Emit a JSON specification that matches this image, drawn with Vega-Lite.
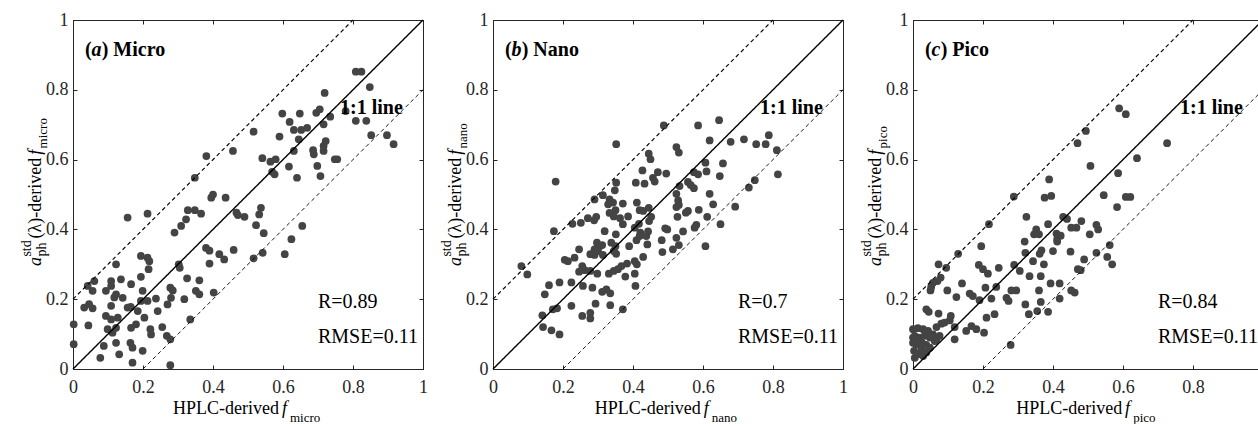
{
"$schema": "https://vega.github.io/schema/vega-lite/v6.json",
"background": "white",
"padding": {"left": 19, "top": 10, "right": 0, "bottom": 0},
"spacing": 70,
"bounds": "flush",
"config": {
  "view": {"stroke": "#262626", "strokeWidth": 1},
  "font": "Liberation Serif",
  "text": {"font": "Liberation Serif", "align": "left", "baseline": "alphabetic", "color": "#000000"},
  "axis": {"labelFont": "Liberation Serif", "labelFontSize": 18, "labelColor": "#262626", "domainColor": "#262626", "tickColor": "#262626", "tickSize": -4, "tickWidth": 1, "domainWidth": 1, "grid": false, "title": null, "format": "~g", "labelFlush": false, "labelOverlap": false},
  "axisX": {"labelPadding": 13},
  "axisY": {"labelPadding": 9}
},
"datasets": {
  "lines": [{"g":"one","x":0,"y":0},{"g":"one","x":1,"y":1},{"g":"up","x":0,"y":0.2},{"g":"up","x":0.8,"y":1},{"g":"lo","x":0.2,"y":0},{"g":"lo","x":1,"y":0.8}],
  "micro": [{"x":0.808,"y":0.852},{"x":0.824,"y":0.852},{"x":0.848,"y":0.808},{"x":0.719,"y":0.791},{"x":0.598,"y":0.732},{"x":0.648,"y":0.732},{"x":0.695,"y":0.734},{"x":0.705,"y":0.744},{"x":0.619,"y":0.708},{"x":0.631,"y":0.685},{"x":0.652,"y":0.685},{"x":0.669,"y":0.691},{"x":0.716,"y":0.701},{"x":0.735,"y":0.723},{"x":0.779,"y":0.739},{"x":0.808,"y":0.711},{"x":0.838,"y":0.711},{"x":0.852,"y":0.67},{"x":0.897,"y":0.67},{"x":0.916,"y":0.644},{"x":0.516,"y":0.68},{"x":0.59,"y":0.666},{"x":0.645,"y":0.658},{"x":0.457,"y":0.625},{"x":0.381,"y":0.61},{"x":0.541,"y":0.604},{"x":0.564,"y":0.594},{"x":0.579,"y":0.601},{"x":0.631,"y":0.625},{"x":0.686,"y":0.627},{"x":0.688,"y":0.615},{"x":0.716,"y":0.639},{"x":0.722,"y":0.653},{"x":0.716,"y":0.625},{"x":0.748,"y":0.601},{"x":0.755,"y":0.601},{"x":0.617,"y":0.58},{"x":0.698,"y":0.582},{"x":0.569,"y":0.565},{"x":0.576,"y":0.558},{"x":0.64,"y":0.548},{"x":0.707,"y":0.553},{"x":0.348,"y":0.548},{"x":0.4,"y":0.5},{"x":0.395,"y":0.491},{"x":0.436,"y":0.491},{"x":0.328,"y":0.455},{"x":0.348,"y":0.455},{"x":0.366,"y":0.445},{"x":0.467,"y":0.448},{"x":0.471,"y":0.441},{"x":0.49,"y":0.436},{"x":0.537,"y":0.462},{"x":0.532,"y":0.443},{"x":0.323,"y":0.429},{"x":0.156,"y":0.434},{"x":0.213,"y":0.445},{"x":0.545,"y":0.389},{"x":0.523,"y":0.412},{"x":0.309,"y":0.41},{"x":0.29,"y":0.391},{"x":0.38,"y":0.347},{"x":0.39,"y":0.339},{"x":0.418,"y":0.329},{"x":0.432,"y":0.314},{"x":0.459,"y":0.341},{"x":0.516,"y":0.317},{"x":0.542,"y":0.333},{"x":0.39,"y":0.302},{"x":0.194,"y":0.324},{"x":0.213,"y":0.319},{"x":0.218,"y":0.309},{"x":0.216,"y":0.286},{"x":0.302,"y":0.3},{"x":0.305,"y":0.29},{"x":0.123,"y":0.3},{"x":0.194,"y":0.264},{"x":0.326,"y":0.26},{"x":0.361,"y":0.254},{"x":0.109,"y":0.252},{"x":0.137,"y":0.257},{"x":0.042,"y":0.238},{"x":0.061,"y":0.252},{"x":0.056,"y":0.224},{"x":0.094,"y":0.224},{"x":0.109,"y":0.238},{"x":0.123,"y":0.214},{"x":0.142,"y":0.204},{"x":0.118,"y":0.205},{"x":0.166,"y":0.243},{"x":0.199,"y":0.224},{"x":0.278,"y":0.233},{"x":0.285,"y":0.225},{"x":0.28,"y":0.204},{"x":0.351,"y":0.224},{"x":0.361,"y":0.214},{"x":0.318,"y":0.2},{"x":0.402,"y":0.219},{"x":0.237,"y":0.202},{"x":0.213,"y":0.195},{"x":0.194,"y":0.195},{"x":0.032,"y":0.176},{"x":0.056,"y":0.174},{"x":0.046,"y":0.186},{"x":0.109,"y":0.181},{"x":0.156,"y":0.176},{"x":0.165,"y":0.178},{"x":0.185,"y":0.166},{"x":0.242,"y":0.166},{"x":0.27,"y":0.185},{"x":0.094,"y":0.152},{"x":0.109,"y":0.142},{"x":0.128,"y":0.147},{"x":0.204,"y":0.147},{"x":0.002,"y":0.128},{"x":0.044,"y":0.125},{"x":0.099,"y":0.114},{"x":0.123,"y":0.118},{"x":0.166,"y":0.118},{"x":0.18,"y":0.128},{"x":0.113,"y":0.104},{"x":0.221,"y":0.114},{"x":0.223,"y":0.099},{"x":0.255,"y":0.12},{"x":0.268,"y":0.095},{"x":0.278,"y":0.085},{"x":0.002,"y":0.071},{"x":0.088,"y":0.066},{"x":0.123,"y":0.075},{"x":0.164,"y":0.075},{"x":0.17,"y":0.061},{"x":0.132,"y":0.042},{"x":0.199,"y":0.052},{"x":0.078,"y":0.032},{"x":0.17,"y":0.018},{"x":0.278,"y":0.011},{"x":0.335,"y":0.142},{"x":0.605,"y":0.329},{"x":0.624,"y":0.372},{"x":0.655,"y":0.41}],
  "nano": [{"x":0.352,"y":0.644},{"x":0.488,"y":0.698},{"x":0.586,"y":0.698},{"x":0.646,"y":0.713},{"x":0.619,"y":0.655},{"x":0.679,"y":0.651},{"x":0.717,"y":0.658},{"x":0.752,"y":0.644},{"x":0.779,"y":0.644},{"x":0.788,"y":0.67},{"x":0.811,"y":0.627},{"x":0.814,"y":0.558},{"x":0.445,"y":0.617},{"x":0.45,"y":0.601},{"x":0.524,"y":0.636},{"x":0.531,"y":0.62},{"x":0.179,"y":0.537},{"x":0.427,"y":0.569},{"x":0.471,"y":0.564},{"x":0.495,"y":0.56},{"x":0.457,"y":0.548},{"x":0.462,"y":0.537},{"x":0.408,"y":0.534},{"x":0.433,"y":0.531},{"x":0.352,"y":0.534},{"x":0.348,"y":0.512},{"x":0.607,"y":0.591},{"x":0.657,"y":0.589},{"x":0.574,"y":0.564},{"x":0.586,"y":0.558},{"x":0.61,"y":0.566},{"x":0.648,"y":0.553},{"x":0.557,"y":0.536},{"x":0.565,"y":0.527},{"x":0.574,"y":0.518},{"x":0.533,"y":0.524},{"x":0.619,"y":0.502},{"x":0.748,"y":0.541},{"x":0.731,"y":0.52},{"x":0.692,"y":0.465},{"x":0.629,"y":0.472},{"x":0.588,"y":0.456},{"x":0.612,"y":0.436},{"x":0.65,"y":0.415},{"x":0.576,"y":0.405},{"x":0.581,"y":0.413},{"x":0.557,"y":0.453},{"x":0.524,"y":0.502},{"x":0.529,"y":0.483},{"x":0.524,"y":0.464},{"x":0.531,"y":0.47},{"x":0.551,"y":0.448},{"x":0.527,"y":0.436},{"x":0.492,"y":0.403},{"x":0.498,"y":0.4},{"x":0.543,"y":0.394},{"x":0.524,"y":0.376},{"x":0.29,"y":0.486},{"x":0.314,"y":0.498},{"x":0.333,"y":0.486},{"x":0.343,"y":0.477},{"x":0.329,"y":0.472},{"x":0.371,"y":0.474},{"x":0.35,"y":0.455},{"x":0.333,"y":0.447},{"x":0.345,"y":0.437},{"x":0.363,"y":0.432},{"x":0.386,"y":0.437},{"x":0.411,"y":0.477},{"x":0.419,"y":0.455},{"x":0.429,"y":0.453},{"x":0.445,"y":0.462},{"x":0.452,"y":0.436},{"x":0.446,"y":0.424},{"x":0.417,"y":0.416},{"x":0.405,"y":0.405},{"x":0.443,"y":0.394},{"x":0.421,"y":0.391},{"x":0.371,"y":0.415},{"x":0.319,"y":0.395},{"x":0.271,"y":0.432},{"x":0.289,"y":0.426},{"x":0.295,"y":0.436},{"x":0.251,"y":0.419},{"x":0.227,"y":0.416},{"x":0.174,"y":0.395},{"x":0.351,"y":0.386},{"x":0.419,"y":0.381},{"x":0.438,"y":0.381},{"x":0.441,"y":0.357},{"x":0.482,"y":0.369},{"x":0.484,"y":0.335},{"x":0.514,"y":0.343},{"x":0.531,"y":0.355},{"x":0.607,"y":0.352},{"x":0.389,"y":0.352},{"x":0.41,"y":0.369},{"x":0.297,"y":0.362},{"x":0.305,"y":0.352},{"x":0.312,"y":0.355},{"x":0.29,"y":0.343},{"x":0.3,"y":0.338},{"x":0.338,"y":0.362},{"x":0.35,"y":0.352},{"x":0.345,"y":0.338},{"x":0.246,"y":0.343},{"x":0.29,"y":0.327},{"x":0.278,"y":0.329},{"x":0.314,"y":0.327},{"x":0.352,"y":0.33},{"x":0.233,"y":0.319},{"x":0.205,"y":0.313},{"x":0.214,"y":0.309},{"x":0.255,"y":0.295},{"x":0.262,"y":0.283},{"x":0.278,"y":0.281},{"x":0.298,"y":0.273},{"x":0.246,"y":0.279},{"x":0.331,"y":0.273},{"x":0.345,"y":0.281},{"x":0.357,"y":0.286},{"x":0.367,"y":0.295},{"x":0.383,"y":0.302},{"x":0.405,"y":0.309},{"x":0.411,"y":0.3},{"x":0.429,"y":0.321},{"x":0.378,"y":0.265},{"x":0.405,"y":0.273},{"x":0.407,"y":0.238},{"x":0.081,"y":0.295},{"x":0.098,"y":0.271},{"x":0.16,"y":0.24},{"x":0.148,"y":0.214},{"x":0.19,"y":0.248},{"x":0.224,"y":0.248},{"x":0.257,"y":0.238},{"x":0.284,"y":0.233},{"x":0.312,"y":0.221},{"x":0.324,"y":0.228},{"x":0.335,"y":0.217},{"x":0.293,"y":0.187},{"x":0.335,"y":0.183},{"x":0.371,"y":0.171},{"x":0.224,"y":0.181},{"x":0.171,"y":0.171},{"x":0.183,"y":0.174},{"x":0.141,"y":0.154},{"x":0.255,"y":0.152},{"x":0.278,"y":0.161},{"x":0.278,"y":0.145},{"x":0.143,"y":0.12},{"x":0.167,"y":0.111},{"x":0.19,"y":0.099}],
  "pico": [{"x":0.589,"y":0.747},{"x":0.608,"y":0.73},{"x":0.494,"y":0.682},{"x":0.47,"y":0.647},{"x":0.726,"y":0.647},{"x":0.64,"y":0.604},{"x":0.507,"y":0.582},{"x":0.586,"y":0.561},{"x":0.389,"y":0.543},{"x":0.288,"y":0.494},{"x":0.376,"y":0.491},{"x":0.395,"y":0.496},{"x":0.545,"y":0.498},{"x":0.608,"y":0.493},{"x":0.621,"y":0.493},{"x":0.583,"y":0.464},{"x":0.324,"y":0.436},{"x":0.386,"y":0.415},{"x":0.429,"y":0.436},{"x":0.44,"y":0.43},{"x":0.452,"y":0.405},{"x":0.467,"y":0.405},{"x":0.481,"y":0.424},{"x":0.524,"y":0.413},{"x":0.529,"y":0.4},{"x":0.217,"y":0.415},{"x":0.505,"y":0.386},{"x":0.41,"y":0.388},{"x":0.346,"y":0.386},{"x":0.36,"y":0.386},{"x":0.352,"y":0.4},{"x":0.562,"y":0.355},{"x":0.569,"y":0.3},{"x":0.555,"y":0.321},{"x":0.319,"y":0.365},{"x":0.412,"y":0.372},{"x":0.412,"y":0.365},{"x":0.422,"y":0.382},{"x":0.4,"y":0.338},{"x":0.45,"y":0.336},{"x":0.367,"y":0.34},{"x":0.362,"y":0.33},{"x":0.343,"y":0.309},{"x":0.374,"y":0.3},{"x":0.321,"y":0.333},{"x":0.195,"y":0.352},{"x":0.129,"y":0.33},{"x":0.073,"y":0.3},{"x":0.095,"y":0.29},{"x":0.079,"y":0.262},{"x":0.07,"y":0.252},{"x":0.057,"y":0.247},{"x":0.052,"y":0.235},{"x":0.05,"y":0.225},{"x":0.188,"y":0.298},{"x":0.2,"y":0.286},{"x":0.214,"y":0.273},{"x":0.245,"y":0.29},{"x":0.289,"y":0.298},{"x":0.305,"y":0.281},{"x":0.333,"y":0.266},{"x":0.365,"y":0.266},{"x":0.489,"y":0.314},{"x":0.471,"y":0.286},{"x":0.479,"y":0.283},{"x":0.524,"y":0.333},{"x":0.14,"y":0.245},{"x":0.098,"y":0.225},{"x":0.124,"y":0.206},{"x":0.162,"y":0.216},{"x":0.171,"y":0.209},{"x":0.19,"y":0.197},{"x":0.207,"y":0.233},{"x":0.224,"y":0.202},{"x":0.238,"y":0.235},{"x":0.267,"y":0.204},{"x":0.273,"y":0.195},{"x":0.281,"y":0.225},{"x":0.295,"y":0.225},{"x":0.393,"y":0.245},{"x":0.419,"y":0.245},{"x":0.419,"y":0.202},{"x":0.452,"y":0.225},{"x":0.462,"y":0.219},{"x":0.36,"y":0.225},{"x":0.321,"y":0.185},{"x":0.365,"y":0.192},{"x":0.355,"y":0.166},{"x":0.386,"y":0.164},{"x":0.331,"y":0.157},{"x":0.21,"y":0.147},{"x":0.233,"y":0.157},{"x":0.038,"y":0.171},{"x":0.045,"y":0.164},{"x":0.073,"y":0.159},{"x":0.081,"y":0.13},{"x":0.09,"y":0.133},{"x":0.105,"y":0.139},{"x":0.108,"y":0.152},{"x":0.119,"y":0.12},{"x":0.152,"y":0.109},{"x":0.167,"y":0.123},{"x":0.181,"y":0.114},{"x":0.203,"y":0.104},{"x":0.119,"y":0.085},{"x":0.067,"y":0.085},{"x":0.279,"y":0.069},{"x":0.0,"y":0.114},{"x":0.014,"y":0.117},{"x":0.029,"y":0.114},{"x":0.043,"y":0.109},{"x":0.005,"y":0.095},{"x":0.019,"y":0.09},{"x":0.033,"y":0.095},{"x":0.048,"y":0.09},{"x":0.0,"y":0.075},{"x":0.012,"y":0.071},{"x":0.026,"y":0.075},{"x":0.038,"y":0.069},{"x":0.003,"y":0.052},{"x":0.014,"y":0.042},{"x":0.029,"y":0.037},{"x":0.005,"y":0.032},{"x":0.057,"y":0.099},{"x":0.067,"y":0.12},{"x":0.024,"y":0.057},{"x":0.048,"y":0.061},{"x":0.038,"y":0.047},{"x":0.062,"y":0.08},{"x":0.076,"y":0.095},{"x":0.0,"y":0.09},{"x":0.01,"y":0.08}]
},
"hconcat": [
 {"width": 350, "height": 349, "resolve": {"axis": {"x": "independent", "y": "independent"}},
  "layer": [
   {"data": {"name": "micro"}, "mark": {"type": "circle", "size": 60, "color": "#444444", "opacity": 1},
    "encoding": {"x": {"field": "x", "type": "quantitative", "scale": {"domain": [0, 1], "nice": false}, "axis": {"orient": "bottom", "values": [0, 0.2, 0.4, 0.6, 0.8, 1]}},
                 "y": {"field": "y", "type": "quantitative", "scale": {"domain": [0, 1], "nice": false}, "axis": {"orient": "left", "values": [0, 0.2, 0.4, 0.6, 0.8, 1]}}}},
   {"data": {"name": "lines"}, "mark": {"type": "line", "color": "#000000"},
    "encoding": {"x": {"field": "x", "type": "quantitative", "axis": {"orient": "top", "labels": false, "values": [0, 0.2, 0.4, 0.6, 0.8, 1]}},
                 "y": {"field": "y", "type": "quantitative", "axis": {"orient": "right", "labels": false, "values": [0, 0.2, 0.4, 0.6, 0.8, 1]}},
                 "detail": {"field": "g"},
                 "strokeDash": {"field": "g", "type": "nominal", "scale": {"domain": ["one", "up", "lo"], "range": [[1, 0], [4, 3], [4, 3]]}, "legend": null},
                 "strokeWidth": {"field": "g", "type": "nominal", "scale": {"domain": ["one", "up", "lo"], "range": [1.4, 0.9, 0.9]}, "legend": null}}},
   {"layer": [
    {"data": {"values": [{}]}, "mark": {"type": "text", "text": "(", "fontSize": 20, "fontWeight": "bold"}, "encoding": {"x": {"datum": 0.034, "type": "quantitative", "axis": null}, "y": {"datum": 0.897, "type": "quantitative", "axis": null}}},
    {"data": {"values": [{}]}, "mark": {"type": "text", "text": "a", "fontSize": 20, "fontWeight": "bold", "fontStyle": "italic"}, "encoding": {"x": {"datum": 0.053, "type": "quantitative", "axis": null}, "y": {"datum": 0.897, "type": "quantitative", "axis": null}}},
    {"data": {"values": [{}]}, "mark": {"type": "text", "text": ") Micro", "fontSize": 20, "fontWeight": "bold"}, "encoding": {"x": {"datum": 0.082, "type": "quantitative", "axis": null}, "y": {"datum": 0.897, "type": "quantitative", "axis": null}}},
    {"data": {"values": [{}]}, "mark": {"type": "text", "text": "1:1 line", "fontSize": 20, "fontWeight": "bold"}, "encoding": {"x": {"datum": 0.763, "type": "quantitative", "axis": null}, "y": {"datum": 0.731, "type": "quantitative", "axis": null}}},
    {"data": {"values": [{}]}, "mark": {"type": "text", "text": "R=0.89", "fontSize": 20}, "encoding": {"x": {"datum": 0.7, "type": "quantitative", "axis": null}, "y": {"datum": 0.176, "type": "quantitative", "axis": null}}},
    {"data": {"values": [{}]}, "mark": {"type": "text", "text": "RMSE=0.11", "fontSize": 20}, "encoding": {"x": {"datum": 0.7, "type": "quantitative", "axis": null}, "y": {"datum": 0.075, "type": "quantitative", "axis": null}}},
    {"data": {"values": [{}]}, "mark": {"type": "text", "text": "HPLC-derived", "fontSize": 18}, "encoding": {"x": {"datum": 0.286, "type": "quantitative", "axis": null}, "y": {"datum": -0.129, "type": "quantitative", "axis": null}}},
    {"data": {"values": [{}]}, "mark": {"type": "text", "text": "f", "fontSize": 18, "fontStyle": "italic"}, "encoding": {"x": {"datum": 0.597, "type": "quantitative", "axis": null}, "y": {"datum": -0.129, "type": "quantitative", "axis": null}}},
    {"data": {"values": [{}]}, "mark": {"type": "text", "text": "micro", "fontSize": 13}, "encoding": {"x": {"datum": 0.62, "type": "quantitative", "axis": null}, "y": {"datum": -0.152, "type": "quantitative", "axis": null}}},
    {"data": {"values": [{}]}, "mark": {"type": "text", "text": "a", "fontSize": 18, "fontStyle": "italic", "angle": 270}, "encoding": {"x": {"datum": -0.091, "type": "quantitative", "axis": null}, "y": {"datum": 0.295, "type": "quantitative", "axis": null}}},
    {"data": {"values": [{}]}, "mark": {"type": "text", "text": "std", "fontSize": 14, "angle": 270}, "encoding": {"x": {"datum": -0.12, "type": "quantitative", "axis": null}, "y": {"datum": 0.322, "type": "quantitative", "axis": null}}},
    {"data": {"values": [{}]}, "mark": {"type": "text", "text": "ph", "fontSize": 14, "angle": 270}, "encoding": {"x": {"datum": -0.078, "type": "quantitative", "axis": null}, "y": {"datum": 0.322, "type": "quantitative", "axis": null}}},
    {"data": {"values": [{}]}, "mark": {"type": "text", "text": "(λ)-derived", "fontSize": 18, "angle": 270}, "encoding": {"x": {"datum": -0.091, "type": "quantitative", "axis": null}, "y": {"datum": 0.374, "type": "quantitative", "axis": null}}},
    {"data": {"values": [{}]}, "mark": {"type": "text", "text": "f", "fontSize": 18, "fontStyle": "italic", "angle": 270}, "encoding": {"x": {"datum": -0.091, "type": "quantitative", "axis": null}, "y": {"datum": 0.614, "type": "quantitative", "axis": null}}},
    {"data": {"values": [{}]}, "mark": {"type": "text", "text": "micro", "fontSize": 13, "angle": 270}, "encoding": {"x": {"datum": -0.074, "type": "quantitative", "axis": null}, "y": {"datum": 0.632, "type": "quantitative", "axis": null}}}
   ]}
  ]},
 {"width": 350, "height": 349, "resolve": {"axis": {"x": "independent", "y": "independent"}},
  "layer": [
   {"data": {"name": "nano"}, "mark": {"type": "circle", "size": 60, "color": "#444444", "opacity": 1},
    "encoding": {"x": {"field": "x", "type": "quantitative", "scale": {"domain": [0, 1], "nice": false}, "axis": {"orient": "bottom", "values": [0, 0.2, 0.4, 0.6, 0.8, 1]}},
                 "y": {"field": "y", "type": "quantitative", "scale": {"domain": [0, 1], "nice": false}, "axis": {"orient": "left", "values": [0, 0.2, 0.4, 0.6, 0.8, 1]}}}},
   {"data": {"name": "lines"}, "mark": {"type": "line", "color": "#000000"},
    "encoding": {"x": {"field": "x", "type": "quantitative", "axis": {"orient": "top", "labels": false, "values": [0, 0.2, 0.4, 0.6, 0.8, 1]}},
                 "y": {"field": "y", "type": "quantitative", "axis": {"orient": "right", "labels": false, "values": [0, 0.2, 0.4, 0.6, 0.8, 1]}},
                 "detail": {"field": "g"},
                 "strokeDash": {"field": "g", "type": "nominal", "scale": {"domain": ["one", "up", "lo"], "range": [[1, 0], [4, 3], [4, 3]]}, "legend": null},
                 "strokeWidth": {"field": "g", "type": "nominal", "scale": {"domain": ["one", "up", "lo"], "range": [1.4, 0.9, 0.9]}, "legend": null}}},
   {"layer": [
    {"data": {"values": [{}]}, "mark": {"type": "text", "text": "(", "fontSize": 20, "fontWeight": "bold"}, "encoding": {"x": {"datum": 0.034, "type": "quantitative", "axis": null}, "y": {"datum": 0.897, "type": "quantitative", "axis": null}}},
    {"data": {"values": [{}]}, "mark": {"type": "text", "text": "b", "fontSize": 20, "fontWeight": "bold", "fontStyle": "italic"}, "encoding": {"x": {"datum": 0.053, "type": "quantitative", "axis": null}, "y": {"datum": 0.897, "type": "quantitative", "axis": null}}},
    {"data": {"values": [{}]}, "mark": {"type": "text", "text": ") Nano", "fontSize": 20, "fontWeight": "bold"}, "encoding": {"x": {"datum": 0.082, "type": "quantitative", "axis": null}, "y": {"datum": 0.897, "type": "quantitative", "axis": null}}},
    {"data": {"values": [{}]}, "mark": {"type": "text", "text": "1:1 line", "fontSize": 20, "fontWeight": "bold"}, "encoding": {"x": {"datum": 0.763, "type": "quantitative", "axis": null}, "y": {"datum": 0.731, "type": "quantitative", "axis": null}}},
    {"data": {"values": [{}]}, "mark": {"type": "text", "text": "R=0.7", "fontSize": 20}, "encoding": {"x": {"datum": 0.7, "type": "quantitative", "axis": null}, "y": {"datum": 0.176, "type": "quantitative", "axis": null}}},
    {"data": {"values": [{}]}, "mark": {"type": "text", "text": "RMSE=0.11", "fontSize": 20}, "encoding": {"x": {"datum": 0.7, "type": "quantitative", "axis": null}, "y": {"datum": 0.075, "type": "quantitative", "axis": null}}},
    {"data": {"values": [{}]}, "mark": {"type": "text", "text": "HPLC-derived", "fontSize": 18}, "encoding": {"x": {"datum": 0.291, "type": "quantitative", "axis": null}, "y": {"datum": -0.129, "type": "quantitative", "axis": null}}},
    {"data": {"values": [{}]}, "mark": {"type": "text", "text": "f", "fontSize": 18, "fontStyle": "italic"}, "encoding": {"x": {"datum": 0.602, "type": "quantitative", "axis": null}, "y": {"datum": -0.129, "type": "quantitative", "axis": null}}},
    {"data": {"values": [{}]}, "mark": {"type": "text", "text": "nano", "fontSize": 13}, "encoding": {"x": {"datum": 0.625, "type": "quantitative", "axis": null}, "y": {"datum": -0.152, "type": "quantitative", "axis": null}}},
    {"data": {"values": [{}]}, "mark": {"type": "text", "text": "a", "fontSize": 18, "fontStyle": "italic", "angle": 270}, "encoding": {"x": {"datum": -0.091, "type": "quantitative", "axis": null}, "y": {"datum": 0.295, "type": "quantitative", "axis": null}}},
    {"data": {"values": [{}]}, "mark": {"type": "text", "text": "std", "fontSize": 14, "angle": 270}, "encoding": {"x": {"datum": -0.12, "type": "quantitative", "axis": null}, "y": {"datum": 0.322, "type": "quantitative", "axis": null}}},
    {"data": {"values": [{}]}, "mark": {"type": "text", "text": "ph", "fontSize": 14, "angle": 270}, "encoding": {"x": {"datum": -0.078, "type": "quantitative", "axis": null}, "y": {"datum": 0.322, "type": "quantitative", "axis": null}}},
    {"data": {"values": [{}]}, "mark": {"type": "text", "text": "(λ)-derived", "fontSize": 18, "angle": 270}, "encoding": {"x": {"datum": -0.091, "type": "quantitative", "axis": null}, "y": {"datum": 0.374, "type": "quantitative", "axis": null}}},
    {"data": {"values": [{}]}, "mark": {"type": "text", "text": "f", "fontSize": 18, "fontStyle": "italic", "angle": 270}, "encoding": {"x": {"datum": -0.091, "type": "quantitative", "axis": null}, "y": {"datum": 0.614, "type": "quantitative", "axis": null}}},
    {"data": {"values": [{}]}, "mark": {"type": "text", "text": "nano", "fontSize": 13, "angle": 270}, "encoding": {"x": {"datum": -0.074, "type": "quantitative", "axis": null}, "y": {"datum": 0.632, "type": "quantitative", "axis": null}}}
   ]}
  ]},
 {"width": 350, "height": 349, "resolve": {"axis": {"x": "independent", "y": "independent"}},
  "layer": [
   {"data": {"name": "pico"}, "mark": {"type": "circle", "size": 60, "color": "#444444", "opacity": 1},
    "encoding": {"x": {"field": "x", "type": "quantitative", "scale": {"domain": [0, 1], "nice": false}, "axis": {"orient": "bottom", "values": [0, 0.2, 0.4, 0.6, 0.8, 1]}},
                 "y": {"field": "y", "type": "quantitative", "scale": {"domain": [0, 1], "nice": false}, "axis": {"orient": "left", "values": [0, 0.2, 0.4, 0.6, 0.8, 1]}}}},
   {"data": {"name": "lines"}, "mark": {"type": "line", "color": "#000000"},
    "encoding": {"x": {"field": "x", "type": "quantitative", "axis": {"orient": "top", "labels": false, "values": [0, 0.2, 0.4, 0.6, 0.8, 1]}},
                 "y": {"field": "y", "type": "quantitative", "axis": {"orient": "right", "labels": false, "values": [0, 0.2, 0.4, 0.6, 0.8, 1]}},
                 "detail": {"field": "g"},
                 "strokeDash": {"field": "g", "type": "nominal", "scale": {"domain": ["one", "up", "lo"], "range": [[1, 0], [4, 3], [4, 3]]}, "legend": null},
                 "strokeWidth": {"field": "g", "type": "nominal", "scale": {"domain": ["one", "up", "lo"], "range": [1.4, 0.9, 0.9]}, "legend": null}}},
   {"layer": [
    {"data": {"values": [{}]}, "mark": {"type": "text", "text": "(", "fontSize": 20, "fontWeight": "bold"}, "encoding": {"x": {"datum": 0.034, "type": "quantitative", "axis": null}, "y": {"datum": 0.897, "type": "quantitative", "axis": null}}},
    {"data": {"values": [{}]}, "mark": {"type": "text", "text": "c", "fontSize": 20, "fontWeight": "bold", "fontStyle": "italic"}, "encoding": {"x": {"datum": 0.053, "type": "quantitative", "axis": null}, "y": {"datum": 0.897, "type": "quantitative", "axis": null}}},
    {"data": {"values": [{}]}, "mark": {"type": "text", "text": ") Pico", "fontSize": 20, "fontWeight": "bold"}, "encoding": {"x": {"datum": 0.079, "type": "quantitative", "axis": null}, "y": {"datum": 0.897, "type": "quantitative", "axis": null}}},
    {"data": {"values": [{}]}, "mark": {"type": "text", "text": "1:1 line", "fontSize": 20, "fontWeight": "bold"}, "encoding": {"x": {"datum": 0.763, "type": "quantitative", "axis": null}, "y": {"datum": 0.731, "type": "quantitative", "axis": null}}},
    {"data": {"values": [{}]}, "mark": {"type": "text", "text": "R=0.84", "fontSize": 20}, "encoding": {"x": {"datum": 0.7, "type": "quantitative", "axis": null}, "y": {"datum": 0.176, "type": "quantitative", "axis": null}}},
    {"data": {"values": [{}]}, "mark": {"type": "text", "text": "RMSE=0.11", "fontSize": 20}, "encoding": {"x": {"datum": 0.7, "type": "quantitative", "axis": null}, "y": {"datum": 0.075, "type": "quantitative", "axis": null}}},
    {"data": {"values": [{}]}, "mark": {"type": "text", "text": "HPLC-derived", "fontSize": 18}, "encoding": {"x": {"datum": 0.295, "type": "quantitative", "axis": null}, "y": {"datum": -0.129, "type": "quantitative", "axis": null}}},
    {"data": {"values": [{}]}, "mark": {"type": "text", "text": "f", "fontSize": 18, "fontStyle": "italic"}, "encoding": {"x": {"datum": 0.606, "type": "quantitative", "axis": null}, "y": {"datum": -0.129, "type": "quantitative", "axis": null}}},
    {"data": {"values": [{}]}, "mark": {"type": "text", "text": "pico", "fontSize": 13}, "encoding": {"x": {"datum": 0.629, "type": "quantitative", "axis": null}, "y": {"datum": -0.152, "type": "quantitative", "axis": null}}},
    {"data": {"values": [{}]}, "mark": {"type": "text", "text": "a", "fontSize": 18, "fontStyle": "italic", "angle": 270}, "encoding": {"x": {"datum": -0.091, "type": "quantitative", "axis": null}, "y": {"datum": 0.295, "type": "quantitative", "axis": null}}},
    {"data": {"values": [{}]}, "mark": {"type": "text", "text": "std", "fontSize": 14, "angle": 270}, "encoding": {"x": {"datum": -0.12, "type": "quantitative", "axis": null}, "y": {"datum": 0.322, "type": "quantitative", "axis": null}}},
    {"data": {"values": [{}]}, "mark": {"type": "text", "text": "ph", "fontSize": 14, "angle": 270}, "encoding": {"x": {"datum": -0.078, "type": "quantitative", "axis": null}, "y": {"datum": 0.322, "type": "quantitative", "axis": null}}},
    {"data": {"values": [{}]}, "mark": {"type": "text", "text": "(λ)-derived", "fontSize": 18, "angle": 270}, "encoding": {"x": {"datum": -0.091, "type": "quantitative", "axis": null}, "y": {"datum": 0.374, "type": "quantitative", "axis": null}}},
    {"data": {"values": [{}]}, "mark": {"type": "text", "text": "f", "fontSize": 18, "fontStyle": "italic", "angle": 270}, "encoding": {"x": {"datum": -0.091, "type": "quantitative", "axis": null}, "y": {"datum": 0.614, "type": "quantitative", "axis": null}}},
    {"data": {"values": [{}]}, "mark": {"type": "text", "text": "pico", "fontSize": 13, "angle": 270}, "encoding": {"x": {"datum": -0.074, "type": "quantitative", "axis": null}, "y": {"datum": 0.632, "type": "quantitative", "axis": null}}}
   ]}
  ]}
]
}
